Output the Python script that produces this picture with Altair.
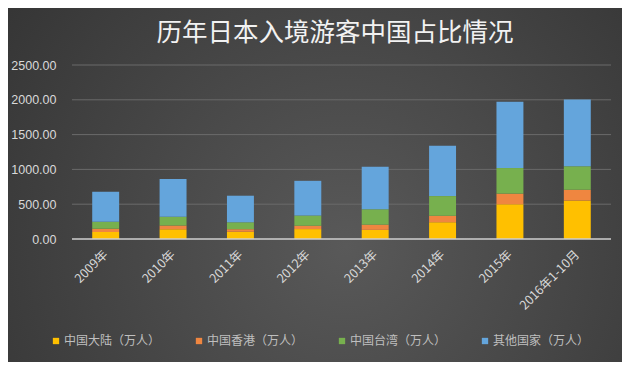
import altair as alt
import pandas as pd

title_text = "历年日本入境游客中国占比情况"
years = ["2009年", "2010年", "2011年", "2012年", "2013年", "2014年", "2015年", "2016年1-10月"]
series = ["中国大陆（万人）", "中国香港（万人）", "中国台湾（万人）", "其他国家（万人）"]
mainland = [101.0, 141.3, 104.3, 142.5, 131.4, 240.9, 499.4, 552.0]
hongkong = [45.0, 50.9, 36.5, 48.2, 74.6, 92.6, 152.4, 155.0]
taiwan = [102.4, 126.8, 99.4, 146.6, 221.1, 283.0, 367.7, 340.0]
others = [430.5, 542.1, 381.7, 498.5, 609.3, 724.8, 954.2, 958.0]
colors = ["#FFC000", "#EF8640", "#77B04E", "#64A5DC"]
y_ticks = [0, 500, 1000, 1500, 2000, 2500]
grid_ticks = [500, 1000, 1500, 2000, 2500]

rows = []
for i, y in enumerate(years):
    for k, (name, vals) in enumerate(zip(series, [mainland, hongkong, taiwan, others])):
        rows.append({"year": y, "series": name, "value": vals[i], "idx": k})
df = pd.DataFrame(rows)

W, H = 539, 174
PL, PT, PR, PB = 64, 57, 11, 123
yscale = alt.Scale(domain=[0, 2500], nice=False)
yaxis = alt.Axis(values=y_ticks, format=".2f", labelColor="#d9d9d9",
                 labelFontSize=12.5, labelFont="Liberation Sans",
                 labelPadding=16, domain=False, ticks=False,
                 grid=False, zindex=1, labelOverlap=False)

bg = alt.Chart(pd.DataFrame({"a": [0]})).mark_rect(
    fill=alt.Gradient(
        gradient="radial",
        stops=[alt.GradientStop(color="#595959", offset=0),
               alt.GradientStop(color="#2f2f2f", offset=1)],
        x1=0.55, y1=0.6, r1=0, x2=0.55, y2=0.6, r2=0.8,
    )
).encode(
    x=alt.value(-PL), x2=alt.value(W + PR),
    y=alt.value(-PT), y2=alt.value(H + PB),
)

grid = alt.Chart(pd.DataFrame({"value": grid_ticks})).mark_rule(
    color="#6a6a6a", strokeWidth=1
).encode(y=alt.Y("value:Q", scale=yscale, axis=yaxis, title=None))

bars = alt.Chart(df).mark_bar().encode(
    x=alt.X("year:N", sort=years, title=None,
            scale=alt.Scale(paddingInner=0.6, paddingOuter=0.3),
            axis=alt.Axis(labelAngle=-45, labelAlign="right", labelBaseline="middle",
                          labelPadding=13, labelColor="#d9d9d9", labelFontSize=12.5,
                          labelFont="Noto Sans CJK SC", domain=False, ticks=False,
                          grid=False, zindex=1, labelOverlap=False)),
    y=alt.Y("value:Q", stack="zero", title=None, scale=yscale, axis=yaxis),
    color=alt.Color("series:N", sort=series,
                    scale=alt.Scale(domain=series, range=colors),
                    legend=alt.Legend(title=None, orient="none", direction="horizontal",
                                      legendX=-22, legendY=270, columns=4,
                                      symbolType="square", symbolSize=40,
                                      symbolStrokeWidth=0, labelOffset=2,
                                      columnPadding=32, labelColor="#bfbfbf",
                                      labelFontSize=12, labelFont="Noto Sans CJK SC")),
    order=alt.Order("idx:Q", sort="ascending"),
)

zero = alt.Chart(pd.DataFrame({"value": [0]})).mark_rule(color="#cfcfcf", strokeWidth=1.5).encode(
    y=alt.Y("value:Q", scale=yscale, axis=yaxis, title=None)
)

title = alt.Chart(pd.DataFrame({"t": [title_text]})).mark_text(
    font="Noto Sans CJK SC", fontSize=25.5, color="#f2f2f2", baseline="middle",
    align="center",
).encode(text="t:N", x=alt.value(263), y=alt.value(-32))

chart = alt.layer(bg, grid, bars, zero, title).properties(
    width=W, height=H,
    padding={"left": PL, "top": PT, "right": PR, "bottom": PB},
    autosize=alt.AutoSizeParams(type="none"),
    background="#3a3a3a",
).configure_view(stroke=None)

chart.save("out.html", embed_options={"renderer": "svg", "actions": False})
